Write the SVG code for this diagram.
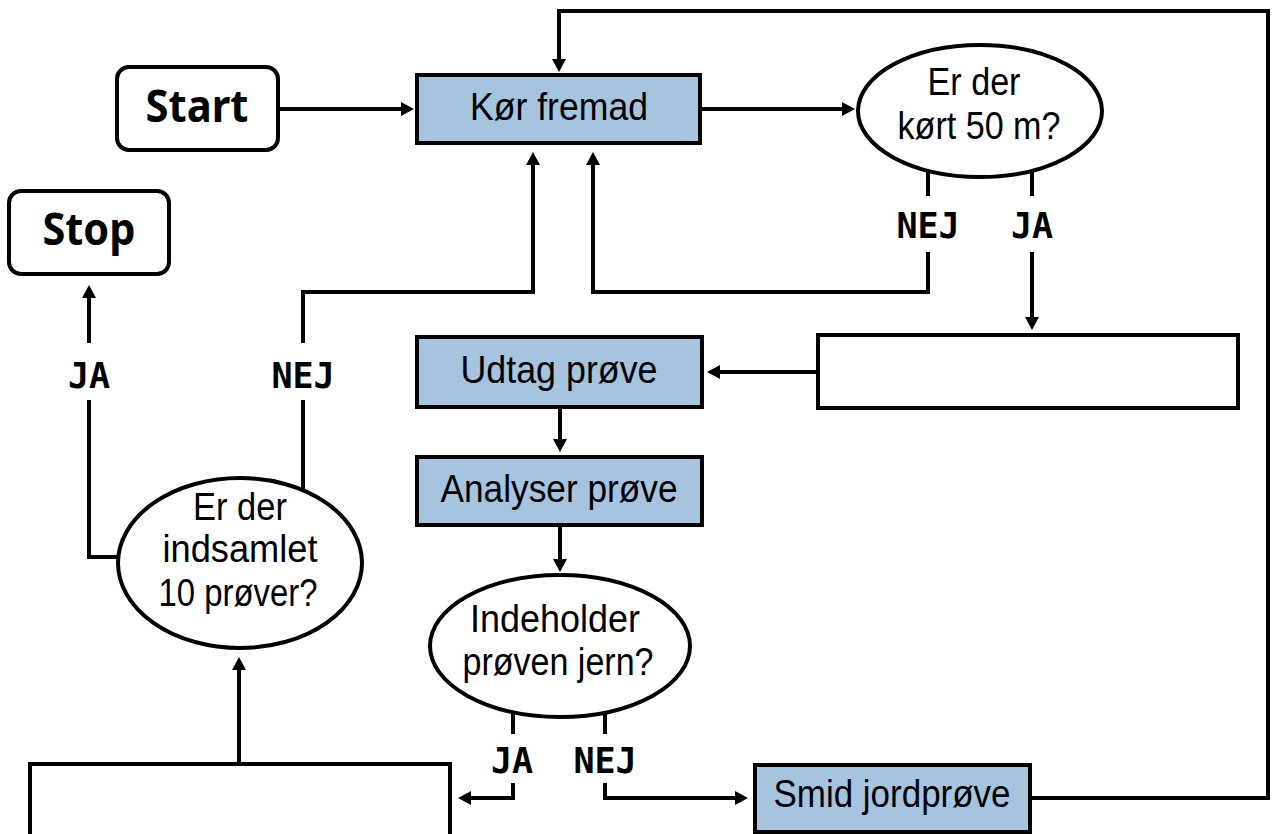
<svg xmlns="http://www.w3.org/2000/svg" width="1279" height="834" viewBox="0 0 1279 834">
<style>
.ln{fill:none;stroke:#000;stroke-width:4;stroke-linejoin:miter}
.arr{marker-end:url(#ah)}
.box{fill:#a7c4de;stroke:#000;stroke-width:4}
.wbox{fill:#fff;stroke:#000;stroke-width:4}
.el{fill:#fff;stroke:#000;stroke-width:4}
.t{font-family:"Liberation Sans",Arial,sans-serif;font-size:38px;fill:#000;text-anchor:middle}
.tb{font-family:"Noto Sans","Open Sans",sans-serif;font-size:44px;font-weight:bold;fill:#000;text-anchor:middle}
.lb{font-family:"DejaVu Sans Mono","Liberation Mono",monospace;font-size:35px;font-weight:bold;fill:#000;text-anchor:middle}
</style>
<defs>
<marker id="ah" markerUnits="userSpaceOnUse" markerWidth="14" markerHeight="14" refX="1" refY="7" orient="auto">
<path d="M0,0 L13,7 L0,14 z" fill="#000"/>
</marker>
</defs>
<rect width="1279" height="834" fill="#fff"/>
<g id="connectors">
<path class="ln arr" d="M278,109 H402"/>
<path class="ln arr" d="M700,109 H843"/>
<path class="ln arr" d="M1030,798 H1268 V11 H559 V60"/>
<path class="ln" d="M928,168 V196"/>
<path class="ln arr" d="M928,252 V292 H593 V164"/>
<path class="ln" d="M1032,168 V196"/>
<path class="ln arr" d="M1032,252 V318"/>
<path class="ln arr" d="M818,372 H719"/>
<path class="ln arr" d="M560,407 V440"/>
<path class="ln arr" d="M560,525 V560"/>
<path class="ln" d="M513,710 V734"/>
<path class="ln arr" d="M513,783 V798 H470"/>
<path class="ln" d="M605,710 V734"/>
<path class="ln arr" d="M605,783 V798 H736"/>
<path class="ln arr" d="M239,764 V669"/>
<path class="ln" d="M124,557 H89 V400"/>
<path class="ln arr" d="M89,343 V297"/>
<path class="ln" d="M303,490 V400"/>
<path class="ln arr" d="M303,343 V292 H533 V164"/>
<text class="lb" x="928" y="238">NEJ</text>
<text class="lb" x="1032" y="238">JA</text>
<text class="lb" x="89" y="388">JA</text>
<text class="lb" x="303" y="388">NEJ</text>
<text class="lb" x="512" y="773">JA</text>
<text class="lb" x="605" y="773">NEJ</text>
</g>
<g id="start">
<rect class="wbox" x="117" y="67" width="161" height="83" rx="12"/>
<text class="tb" x="197" y="122" textLength="103" lengthAdjust="spacingAndGlyphs">Start</text>
</g>
<g id="stop">
<rect class="wbox" x="9" y="191" width="160" height="83" rx="12"/>
<text class="tb" x="89" y="245" textLength="93" lengthAdjust="spacingAndGlyphs">Stop</text>
</g>
<g id="kor-fremad">
<rect class="box" x="417" y="75" width="283" height="68"/>
<text class="t" x="559" y="120" textLength="178" lengthAdjust="spacingAndGlyphs">Kør fremad</text>
</g>
<g id="kort-50m">
<ellipse class="el" cx="980" cy="111" rx="122" ry="66"/>
<text class="t" x="974" y="95" textLength="93" lengthAdjust="spacingAndGlyphs">Er der</text>
<text class="t" x="979" y="139" textLength="163" lengthAdjust="spacingAndGlyphs">kørt 50 m?</text>
</g>
<g id="empty-right">
<rect class="wbox" x="818" y="335" width="420" height="73"/>
</g>
<g id="udtag">
<rect class="box" x="417" y="337" width="285" height="70"/>
<text class="t" x="559" y="383" textLength="197" lengthAdjust="spacingAndGlyphs">Udtag prøve</text>
</g>
<g id="analyser">
<rect class="box" x="417" y="457" width="285" height="68"/>
<text class="t" x="559" y="502" textLength="237" lengthAdjust="spacingAndGlyphs">Analyser prøve</text>
</g>
<g id="jern">
<ellipse class="el" cx="560" cy="646" rx="130" ry="71"/>
<text class="t" x="555" y="632" textLength="170" lengthAdjust="spacingAndGlyphs">Indeholder</text>
<text class="t" x="558" y="675" textLength="191" lengthAdjust="spacingAndGlyphs">prøven jern?</text>
</g>
<g id="smid">
<rect class="box" x="755" y="765" width="275" height="67"/>
<text class="t" x="892" y="807" textLength="237" lengthAdjust="spacingAndGlyphs">Smid jordprøve</text>
</g>
<g id="empty-bottom">
<rect class="wbox" x="30" y="764" width="420" height="80"/>
</g>
<g id="ti-prover">
<ellipse class="el" cx="240" cy="563" rx="122" ry="85"/>
<text class="t" x="240" y="520" textLength="94" lengthAdjust="spacingAndGlyphs">Er der</text>
<text class="t" x="240" y="562" textLength="155" lengthAdjust="spacingAndGlyphs">indsamlet</text>
<text class="t" x="238" y="606" textLength="159" lengthAdjust="spacingAndGlyphs">10 prøver?</text>
</g>
</svg>
